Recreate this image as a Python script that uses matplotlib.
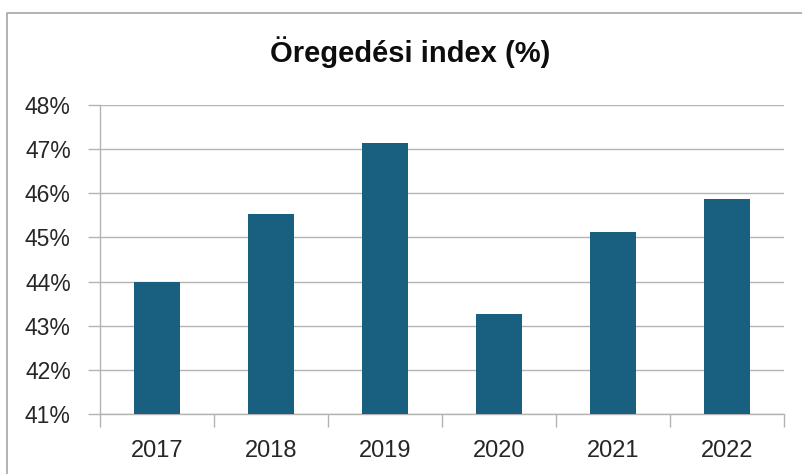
import numpy as np
import matplotlib
matplotlib.use("Agg")
import matplotlib.pyplot as plt
from matplotlib.lines import Line2D
from matplotlib.ticker import FuncFormatter, FixedLocator

years = ["2017", "2018", "2019", "2020", "2021", "2022"]
index_pct = [44.0, 45.53, 47.15, 43.27, 45.13, 45.88]
y_ticks = [41, 42, 43, 44, 45, 46, 47, 48]

BAR_COLOR = "#185f80"
GRID_COLOR = "#b3b3b3"


def main():
    plt.rcParams["font.family"] = ["Liberation Sans", "DejaVu Sans"]
    fig = plt.figure(figsize=(8.03, 4.74), dpi=100)
    ax = fig.add_axes([100 / 803, 1 - 414 / 474, 684 / 803, 309 / 474])

    x = np.arange(len(years))
    # bars start at the axis floor (41%), not at zero
    ax.bar(x, np.array(index_pct) - y_ticks[0], bottom=y_ticks[0],
           width=0.4, color=BAR_COLOR, zorder=3)

    ax.set_xlim(-0.5, len(years) - 0.5)
    ax.set_ylim(y_ticks[0], y_ticks[-1])
    ax.set_yticks(y_ticks)
    ax.yaxis.set_major_formatter(FuncFormatter(lambda v, _: f"{v:.0f}%"))
    ax.set_xticks(x)
    ax.set_xticklabels(years)
    ax.xaxis.set_minor_locator(FixedLocator(np.arange(-0.5, len(years), 1.0)))

    ax.grid(axis="y", color=GRID_COLOR, linewidth=1.0, zorder=0)
    for side in ["top", "right"]:
        ax.spines[side].set_visible(False)
    for side in ["left", "bottom"]:
        ax.spines[side].set_color(GRID_COLOR)
        ax.spines[side].set_linewidth(1.0)

    ax.tick_params(axis="y", length=9, width=1.0, color=GRID_COLOR,
                   labelsize=16.5, labelcolor="#262626", pad=12)
    ax.tick_params(axis="x", which="major", length=0, labelsize=17,
                   labelcolor="#262626", pad=19)
    ax.tick_params(axis="x", which="minor", length=9, width=1.0,
                   color=GRID_COLOR)

    fig.text(410 / 803, 1 - 62 / 474, "Öregedési index (%)",
             ha="center", va="baseline", fontsize=21, fontweight="bold",
             color="#0d0d0d")

    # chart area border (only top and left visible in the crop)
    bx = 7 / 803
    by = 1 - 13 / 474
    fig.add_artist(Line2D([bx, bx, 1.0], [0.0, by, by],
                          transform=fig.transFigure, color="#a6a6a6",
                          linewidth=1.2))

    fig.savefig("out.png", dpi=100)


if __name__ == '__main__':
    main()
